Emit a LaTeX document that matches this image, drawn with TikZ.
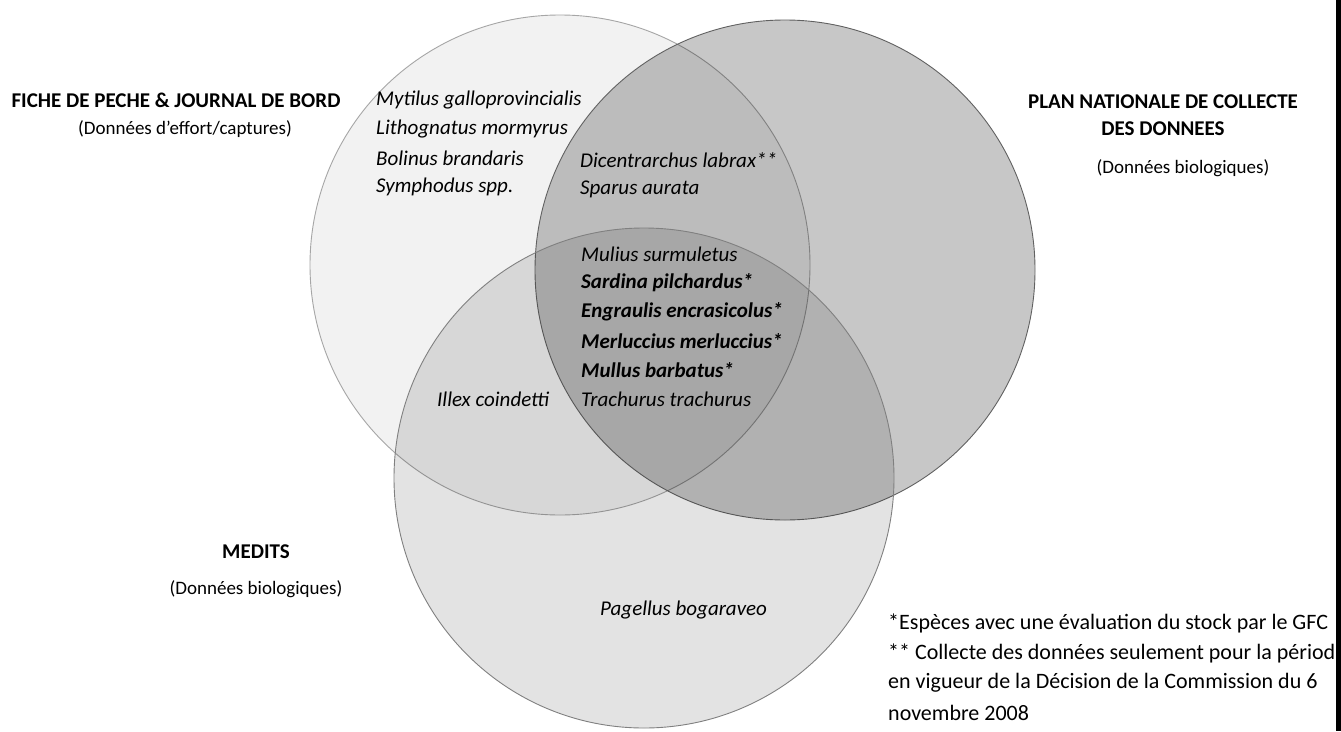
\documentclass[tikz,border=0pt]{standalone}
\usepackage{fontspec}
\setmainfont{Carlito}
\usetikzlibrary{positioning}

\begin{document}
\begin{tikzpicture}[x=1pt, y=-1pt,
    setcircle/.style={circle, minimum size=500pt, inner sep=0pt, line width=0.9pt, fill=black},
    species/.style={anchor=west, inner sep=0pt, font=\itshape\fontsize{21}{25}\selectfont},
    source/.style={align=center, inner sep=0pt, font=\bfseries\fontsize{21}{27}\selectfont},
    datatype/.style={inner sep=0pt, font=\fontsize{19}{23}\selectfont},
    footnote/.style={anchor=west, inner sep=0pt, font=\fontsize{22}{26}\selectfont}]
  \clip (0,0) rectangle (1341,731);
  \fill[white] (0,0) rectangle (1341,731);

  % Sets
  \node[setcircle, fill opacity=0.05, draw=black!35] (fiche) at (560,265) {};
  \node[setcircle, fill opacity=0.22, draw=black!62] (pncd) at (785,270) {};
  \node[setcircle, fill opacity=0.11, draw=black!50] (medits) at (644,478) {};

  % Set titles
  \node[source] (ficheTitle) at (176,100) {FICHE DE PECHE \& JOURNAL DE BORD};
  \node[datatype] (ficheData) at (185,129) {(Données d'effort/captures)};
  \node[source] (pncdTitle) at (1163,115) {PLAN NATIONALE DE COLLECTE\\DES DONNEES};
  \node[datatype] (pncdData) at (1183,168) {(Données biologiques)};
  \node[source] (meditsTitle) at (256,552) {MEDITS};
  \node[datatype] (meditsData) at (256,589) {(Données biologiques)};

  % Species
  \foreach \txt [count=\i] in {Mytilus galloprovincialis, Lithognatus mormyrus,
      Bolinus brandaris, Symphodus spp.}
    \node[species] (ficheSp\i) at (376,71+29*\i) {\txt};
  \foreach \txt [count=\i] in {Dicentrarchus labrax**, Sparus aurata}
    \node[species] (ficheSpPncd\i) at (580,131+29*\i) {\txt};
  \foreach \txt [count=\i] in {Mulius surmuletus, \textbf{Sardina pilchardus*},
      \textbf{Engraulis encrasicolus*}, \textbf{Merluccius merluccius*},
      \textbf{Mullus barbatus*}, Trachurus trachurus}
    \node[species] (allSp\i) at (581,225+29*\i) {\txt};
  \node[species] (ficheMedits) at (437,399) {Illex coindetti};
  \node[species] (meditsSp) at (600,610) {Pagellus bogaraveo};

  % Notes
  \foreach \txt [count=\i] in {*Espèces avec une évaluation du stock par le GFC,
      ** Collecte des données seulement pour la périod,
      en vigueur de la Décision de la Commission du 6, novembre 2008}
    \node[footnote] (note\i) at (888,593+30*\i) {\txt};

  \fill[black] (1336,0) rectangle (1341,731);
\end{tikzpicture}
\end{document}
